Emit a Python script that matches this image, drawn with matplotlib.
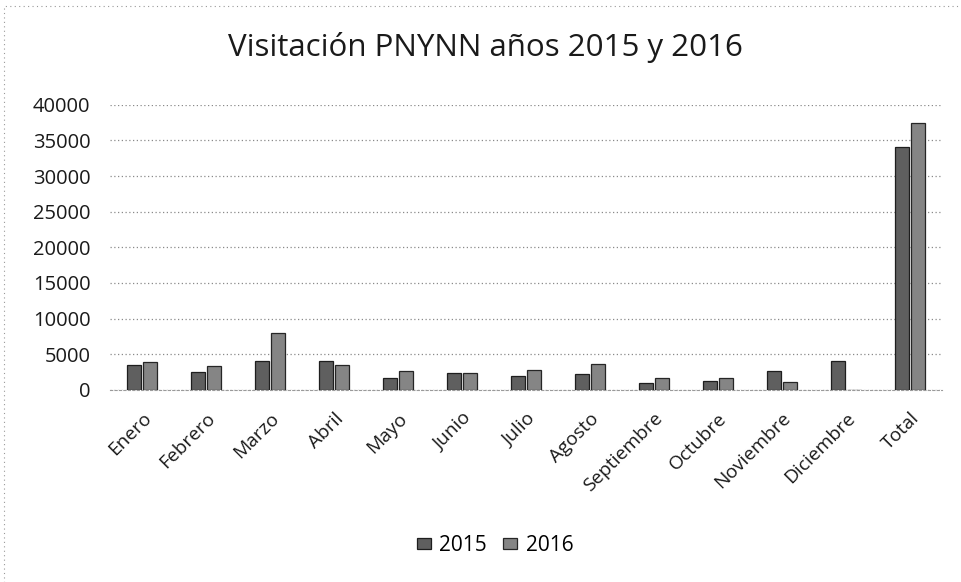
import numpy as np
import matplotlib.pyplot as plt
from matplotlib.patches import Rectangle

plt.rcParams['font.family'] = ['Open Sans', 'DejaVu Sans']

# Datos (visitantes por mes)
meses = ["Enero", "Febrero", "Marzo", "Abril", "Mayo", "Junio", "Julio",
         "Agosto", "Septiembre", "Octubre", "Noviembre", "Diciembre", "Total"]
v2015 = [3500, 2480, 4070, 4070, 1700, 2440, 1960, 2200, 930, 1310, 2660, 4020, 34100]
v2016 = [3890, 3370, 8000, 3500, 2660, 2440, 2850, 3650, 1700, 1650, 1170, 0, 37470]
yticks = [0, 5000, 10000, 15000, 20000, 25000, 30000, 35000, 40000]

fig = plt.figure(figsize=(9.61, 5.82), dpi=100)
ax = fig.add_axes([0.1145, 0.330, 0.8655, 0.490])

x = np.arange(len(meses))
w = 0.21
ax.bar(x - 0.125, v2015, w, color="#5f5f5f", edgecolor="#1e1e1e", linewidth=0.9, label="2015", zorder=3)
ax.bar(x + 0.125, v2016, w, color="#858585", edgecolor="#262626", linewidth=0.9, label="2016", zorder=3)

ax.set_ylim(0, 40000)
ax.set_xlim(-0.5, len(meses) - 0.5)
ax.set_yticks(yticks)
ax.set_yticklabels([str(t) for t in yticks], fontsize=14.5, color="#1a1a1a")
ax.set_xticks(x)
ax.set_xticklabels(meses, rotation=45, ha="right", va="top", rotation_mode="anchor",
                   fontsize=13.8, color="#1a1a1a")
ax.tick_params(length=0)
ax.tick_params(axis="y", pad=14)
ax.tick_params(axis="x", pad=14)

ax.yaxis.grid(True, linestyle=(0, (1, 2)), color="#8a8a8a", linewidth=0.9, zorder=0)
for s in ["top", "right", "left"]:
    ax.spines[s].set_visible(False)
ax.spines["bottom"].set_color("#9a9a9a")
ax.spines["bottom"].set_linestyle((0, (2, 2)))

fig.text(0.505, 0.919, "Visitación PNYNN años 2015 y 2016", fontsize=22.5,
         ha="center", va="center", color="#1a1a1a")

fig.legend(loc="center", bbox_to_anchor=(0.515, 0.063), ncol=2, frameon=False,
           fontsize=15, handlelength=0.67, handleheight=0.5, handletextpad=0.4, columnspacing=0.8)

# borde punteado del grafico escaneado
fig.patches.append(Rectangle((0.004, -0.05), 1.2, 1.04, transform=fig.transFigure, fill=False,
                             edgecolor="#999999", linestyle=(0, (1, 3)), linewidth=0.8))

plt.savefig("out.png", dpi=100)
